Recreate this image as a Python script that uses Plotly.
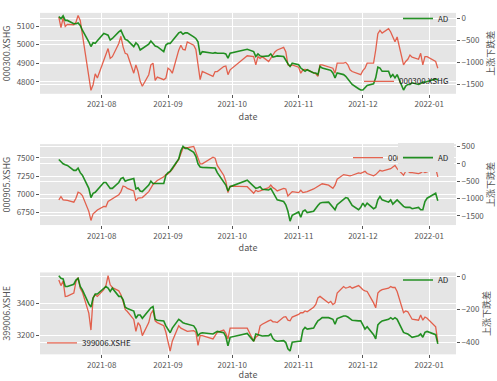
import pandas as pd
import plotly.graph_objects as go

# ---------------- data ----------------
holidays = ['2021-09-20', '2021-09-21', '2021-10-01', '2021-10-04', '2021-10-05',
            '2021-10-06', '2021-10-07', '2022-01-03']
trade_dates = [d for d in pd.bdate_range('2021-07-12', '2022-01-05')
               if d.strftime('%Y-%m-%d') not in holidays]

month_ticks = ['2021-08-01', '2021-09-01', '2021-10-01', '2021-11-01', '2021-12-01', '2022-01-01']
month_labels = ['2021-08', '2021-09', '2021-10', '2021-11', '2021-12', '2022-01']

hs300 = [5148, 5091, 5144, 5098, 5109, 5107, 5121, 5157, 5130, 5059, 4850, 4754, 4784, 4843, 4820,
         4917, 4944, 4979, 4926, 4935, 5006, 5045, 4988, 4953, 4948, 4846, 4891, 4855, 4802, 4776,
         4838, 4891, 4900, 4807, 4825, 4811, 4820,
         4873, 4864, 4846, 4970, 4997, 4974, 4971, 5015, 4997, 4974, 4900, 4811, 4855, 4829, 4855,
         4855, 4882, 4885, 4838, 4864,
         4940, 4935, 4891, 4935, 4926, 4935, 4909, 4926, 4944, 4962, 4971, 4985, 4962, 4891, 4885, 4891,
         4878, 4846, 4864, 4867, 4864, 4850, 4843, 4829, 4891, 4891, 4882, 4878, 4873, 4846, 4900,
         4900, 4904, 4891, 4864, 4855, 4843, 4838,
         4860, 4873, 4900, 4900, 4971, 5059, 5077, 5062, 5086, 5068, 5041, 5015, 5041, 4891, 4909,
         4921, 4944, 4932, 4921, 4953, 4891, 4935, 4935,
         4909, 4873]
ad_hs300 = [37, -15, 52, -52, -52, -126, -126, -111, -163, -274, -533, -640, -556, -570, -511,
            -348, -363, -385, -496, -459, -311, -274, -385, -481, -496, -644, -556, -607, -718, -681,
            -585, -518, -570, -630, -644, -755, -607,
            -570, -570, -511, -333, -311, -363, -333, -333, -422, -459, -533, -830, -755, -793, -778,
            -793, -793, -807, -904, -793,
            -704, -755, -867, -807, -852, -867, -852, -807, -881, -867, -852, -867, -956, -1030, -1089, -1015,
            -1052, -1126, -1163, -1200, -1163, -1237, -1237, -1274, -1089, -1126, -1163, -1178, -1237,
            -1348, -1237, -1274, -1311, -1370, -1444, -1496, -1593, -1622,
            -1622, -1570, -1519, -1481, -1348, -1104, -1126, -1200, -1200, -1326, -1274, -1348, -1274,
            -1622, -1533, -1496, -1496, -1459, -1496, -1474, -1444, -1444, -1430,
            -1370, -1400]

csi500 = [6926, 6970, 6926, 6926, 6917, 6894, 6948, 7029, 7015, 6984, 6768, 6643, 6733, 6759, 6786,
          6836, 6831, 6903, 6921, 6935, 6993, 7038, 7114, 7105, 7083, 7047, 6912, 6948, 6948, 6957,
          7038, 7092, 7136, 7163, 7190, 7240, 7271,
          7280, 7307, 7343, 7478, 7567, 7635, 7644, 7639, 7657, 7567, 7487, 7419, 7419, 7509, 7496,
          7397, 7262, 7181, 7024, 7114,
          7105, 7015, 7056, 7038, 7047, 7056, 7092, 7127, 7092, 7074, 7047, 7083, 7074, 6979, 7015, 7038,
          7024, 7056, 7024, 7029, 7038, 7074, 7092, 7114, 7127, 7145, 7127, 7105, 7083, 7127, 7208,
          7271, 7262, 7258, 7253, 7262, 7294, 7289,
          7298, 7316, 7285, 7253, 7271, 7307, 7329, 7320, 7352, 7352, 7374, 7397, 7352, 7262, 7316,
          7316, 7298, 7298, 7285, 7294, 7316, 7298, 7307,
          7361, 7240]
ad_csi500 = [123, 47, 0, -28, -47, -189, -189, -123, -255, -330, -708, -972, -849, -821, -755,
             -538, -538, -632, -708, -708, -538, -425, -396, -500, -472, -425, -726, -689, -783, -802,
             -613, -500, -566, -566, -566, -566, -330,
             -255, -217, -123, 142, 377, 500, 443, 443, 330, 217, 0, -94, -104, -113, -123,
             -255, -519, -613, -783, -660,
             -472, -660, -708, -689, -660, -736, -755, -708, -821, -943, -1038, -1085, -1179, -1368, -1651, -1481,
             -1387, -1538, -1368, -1330, -1406, -1368, -1274, -1198, -1132, -1113, -1104, -1179, -1255,
             -1321, -1179, -1019, -972, -991, -1085, -1198, -1321, -1255,
             -1132, -1226, -1132, -1292, -1255, -1038, -943, -1038, -1104, -1038, -1160, -1104, -1038,
             -1226, -1255, -1255, -1255, -1292, -1255, -1321, -1321, -1085, -991,
             -849, -1066]

cyb = [3548, 3513, 3542, 3445, 3447, 3466, 3538, 3563, 3497, 3472, 3340, 3233, 3435, 3456, 3445,
       3487, 3513, 3575, 3518, 3501, 3480, 3456, 3414, 3363, 3350, 3300, 3225, 3280, 3260, 3198,
       3280, 3336, 3357, 3291, 3280, 3260, 3219,
       3157, 3101, 3163, 3260, 3245, 3237, 3233, 3225, 3229, 3219, 3136, 3198, 3198, 3177, 3198,
       3219, 3233, 3212, 3177, 3245,
       3245, 3163, 3188, 3198, 3260, 3270, 3291, 3297, 3285, 3285, 3280, 3315, 3317, 3295, 3291, 3315,
       3332, 3342, 3342, 3353, 3348, 3377, 3394, 3435, 3445, 3435, 3404, 3414, 3394, 3404, 3466,
       3507, 3497, 3501, 3507, 3497, 3513, 3501,
       3487, 3480, 3476, 3404, 3373, 3466, 3480, 3487, 3497, 3507, 3501, 3501, 3476, 3342, 3353,
       3348, 3322, 3301, 3295, 3328, 3295, 3315, 3307,
       3254, 3157]
ad_cyb = [6, -10, -14, -60, -60, -46, -20, -10, -60, -80, -166, -186, -130, -106, -106,
          -70, -60, -70, -90, -70, -120, -120, -140, -186, -194, -210, -254, -234, -234, -254,
          -206, -190, -182, -260, -266, -270, -300,
          -320, -342, -314, -260, -270, -282, -286, -290, -300, -320, -360, -346, -342, -350, -342,
          -334, -342, -366, -422, -370,
          -346, -394, -350, -354, -358, -362, -360, -350, -378, -390, -394, -390, -402, -440, -454, -400,
          -394, -394, -326, -310, -320, -314, -290, -270, -260, -250, -250, -254, -260, -290, -256,
          -240, -240, -246, -254, -266, -270, -270,
          -294, -320, -306, -354, -380, -294, -280, -270, -260, -250, -260, -250, -260, -340, -346,
          -350, -360, -370, -360, -350, -370, -340, -334,
          -354, -410]

index_names = ['000300.XSHG', '000905.XSHG', '399006.XSHE']
index_series = [hs300, csi500, cyb]
ad_series = [ad_hs300, ad_csi500, ad_cyb]
left_ticks = [[4800, 4900, 5000, 5100], [6750, 7000, 7250, 7500], [3200, 3400]]
right_ticks = [[-1500, -1000, -500, 0], [-1500, -1000, -500, 0, 500], [-400, -200, 0]]

# ---------------- styling ----------------
W, H = 497, 381
FONT = 'Noto Sans CJK SC, DejaVu Sans, sans-serif'
GREY = '#555555'
RED = '#E24A33'
GREEN = '#008000'
BG = '#E5E5E5'
PX0, PX1 = 40, 456
panel_px = [(9, 91), (142, 224), (272, 355)]
left_ranges = [[4735, 5171], [6580, 7688], [3080, 3596]]
right_ranges = [[-1707, 118], [-1764, 566], [-474, 26]]
xrange_ = ['2021-07-03 05:00', '2022-01-13 12:00']


def ydom(t, b):
    return [1 - b / H, 1 - t / H]


def py(px):
    return 1 - px / H


fig = go.Figure()
layout = dict(width=W, height=H, margin=dict(l=0, r=0, t=0, b=0),
              paper_bgcolor='white', plot_bgcolor=BG,
              font=dict(family=FONT, size=8, color=GREY), showlegend=True)

for i in range(3):
    xa = 'x' if i == 0 else f'x{i + 1}'
    yl = 'y' if i == 0 else f'y{2 * i + 1}'
    yr = f'y{2 * i + 2}'
    leg_red = 'legend' if i == 0 else f'legend{2 * i + 1}'
    leg_ad = f'legend{2 * i + 2}'

    fig.add_trace(go.Scatter(x=trade_dates, y=index_series[i], mode='lines', name=index_names[i],
                             line=dict(color=RED, width=1.3), opacity=0.85,
                             xaxis=xa, yaxis=yl, legend=leg_red))
    fig.add_trace(go.Scatter(x=trade_dates, y=ad_series[i], mode='lines', name='AD',
                             line=dict(color=GREEN, width=1.6), opacity=0.85,
                             xaxis=xa, yaxis=yr, legend=leg_ad))

    t, b = panel_px[i]
    dom = ydom(t, b)
    xkey = 'xaxis' if i == 0 else f'xaxis{i + 1}'
    ylkey = 'yaxis' if i == 0 else f'yaxis{2 * i + 1}'
    yrkey = f'yaxis{2 * i + 2}'
    common_tick = dict(ticks='outside', ticklen=3, tickwidth=1, tickcolor=GREY,
                       tickfont=dict(family=FONT, size=8, color=GREY),
                       showline=False, zeroline=False, showgrid=True,
                       gridcolor='white', gridwidth=1)
    layout[xkey] = dict(domain=[PX0 / W, PX1 / W], anchor=yl, type='date', range=xrange_,
                        tickvals=month_ticks, ticktext=month_labels,
                        title=dict(text='date', font=dict(family=FONT, size=9, color=GREY), standoff=5),
                        **common_tick)
    layout[ylkey] = dict(domain=dom, anchor=xa, range=left_ranges[i], tickvals=left_ticks[i],
                         title=dict(text=index_names[i], font=dict(family=FONT, size=9, color=GREY),
                                    standoff=4),
                         **common_tick)
    layout[yrkey] = dict(domain=dom, anchor=xa, overlaying=yl, side='right', range=right_ranges[i],
                         tickvals=right_ticks[i],
                         title=dict(text='上涨下跌差', font=dict(family=FONT, size=9, color=GREY),
                                    standoff=4),
                         **common_tick)

    legbase = dict(borderwidth=0, font=dict(family=FONT, size=8, color='#222222'),
                   tracegroupgap=0, itemwidth=30)
    clear = 'rgba(0,0,0,0)'
    if i == 0:
        layout[leg_red] = dict(x=(PX1 - 2) / W, y=py(93), xanchor='right', yanchor='bottom',
                               bgcolor=clear, **legbase)
        layout[leg_ad] = dict(x=(PX1 - 2) / W, y=py(0), xanchor='right', yanchor='top',
                              bgcolor=clear, **legbase)
    elif i == 1:
        layout[leg_red] = dict(x=(PX1 - 13) / W, y=py(141), xanchor='right', yanchor='top',
                               bgcolor=clear, **legbase)
        layout[leg_ad] = dict(x=(PX1 - 2) / W, y=py(141), xanchor='right', yanchor='top',
                              bgcolor=BG, **legbase)
    else:
        layout[leg_red] = dict(x=(PX0 + 2) / W, y=py(358), xanchor='left', yanchor='bottom',
                               bgcolor=clear, **legbase)
        layout[leg_ad] = dict(x=(PX1 - 2) / W, y=py(265), xanchor='right', yanchor='top',
                              bgcolor=clear, **legbase)

fig.update_layout(**layout)
fig.write_html('out.html', config={'displayModeBar': False},
               post_script="document.body.style.margin='0';")
